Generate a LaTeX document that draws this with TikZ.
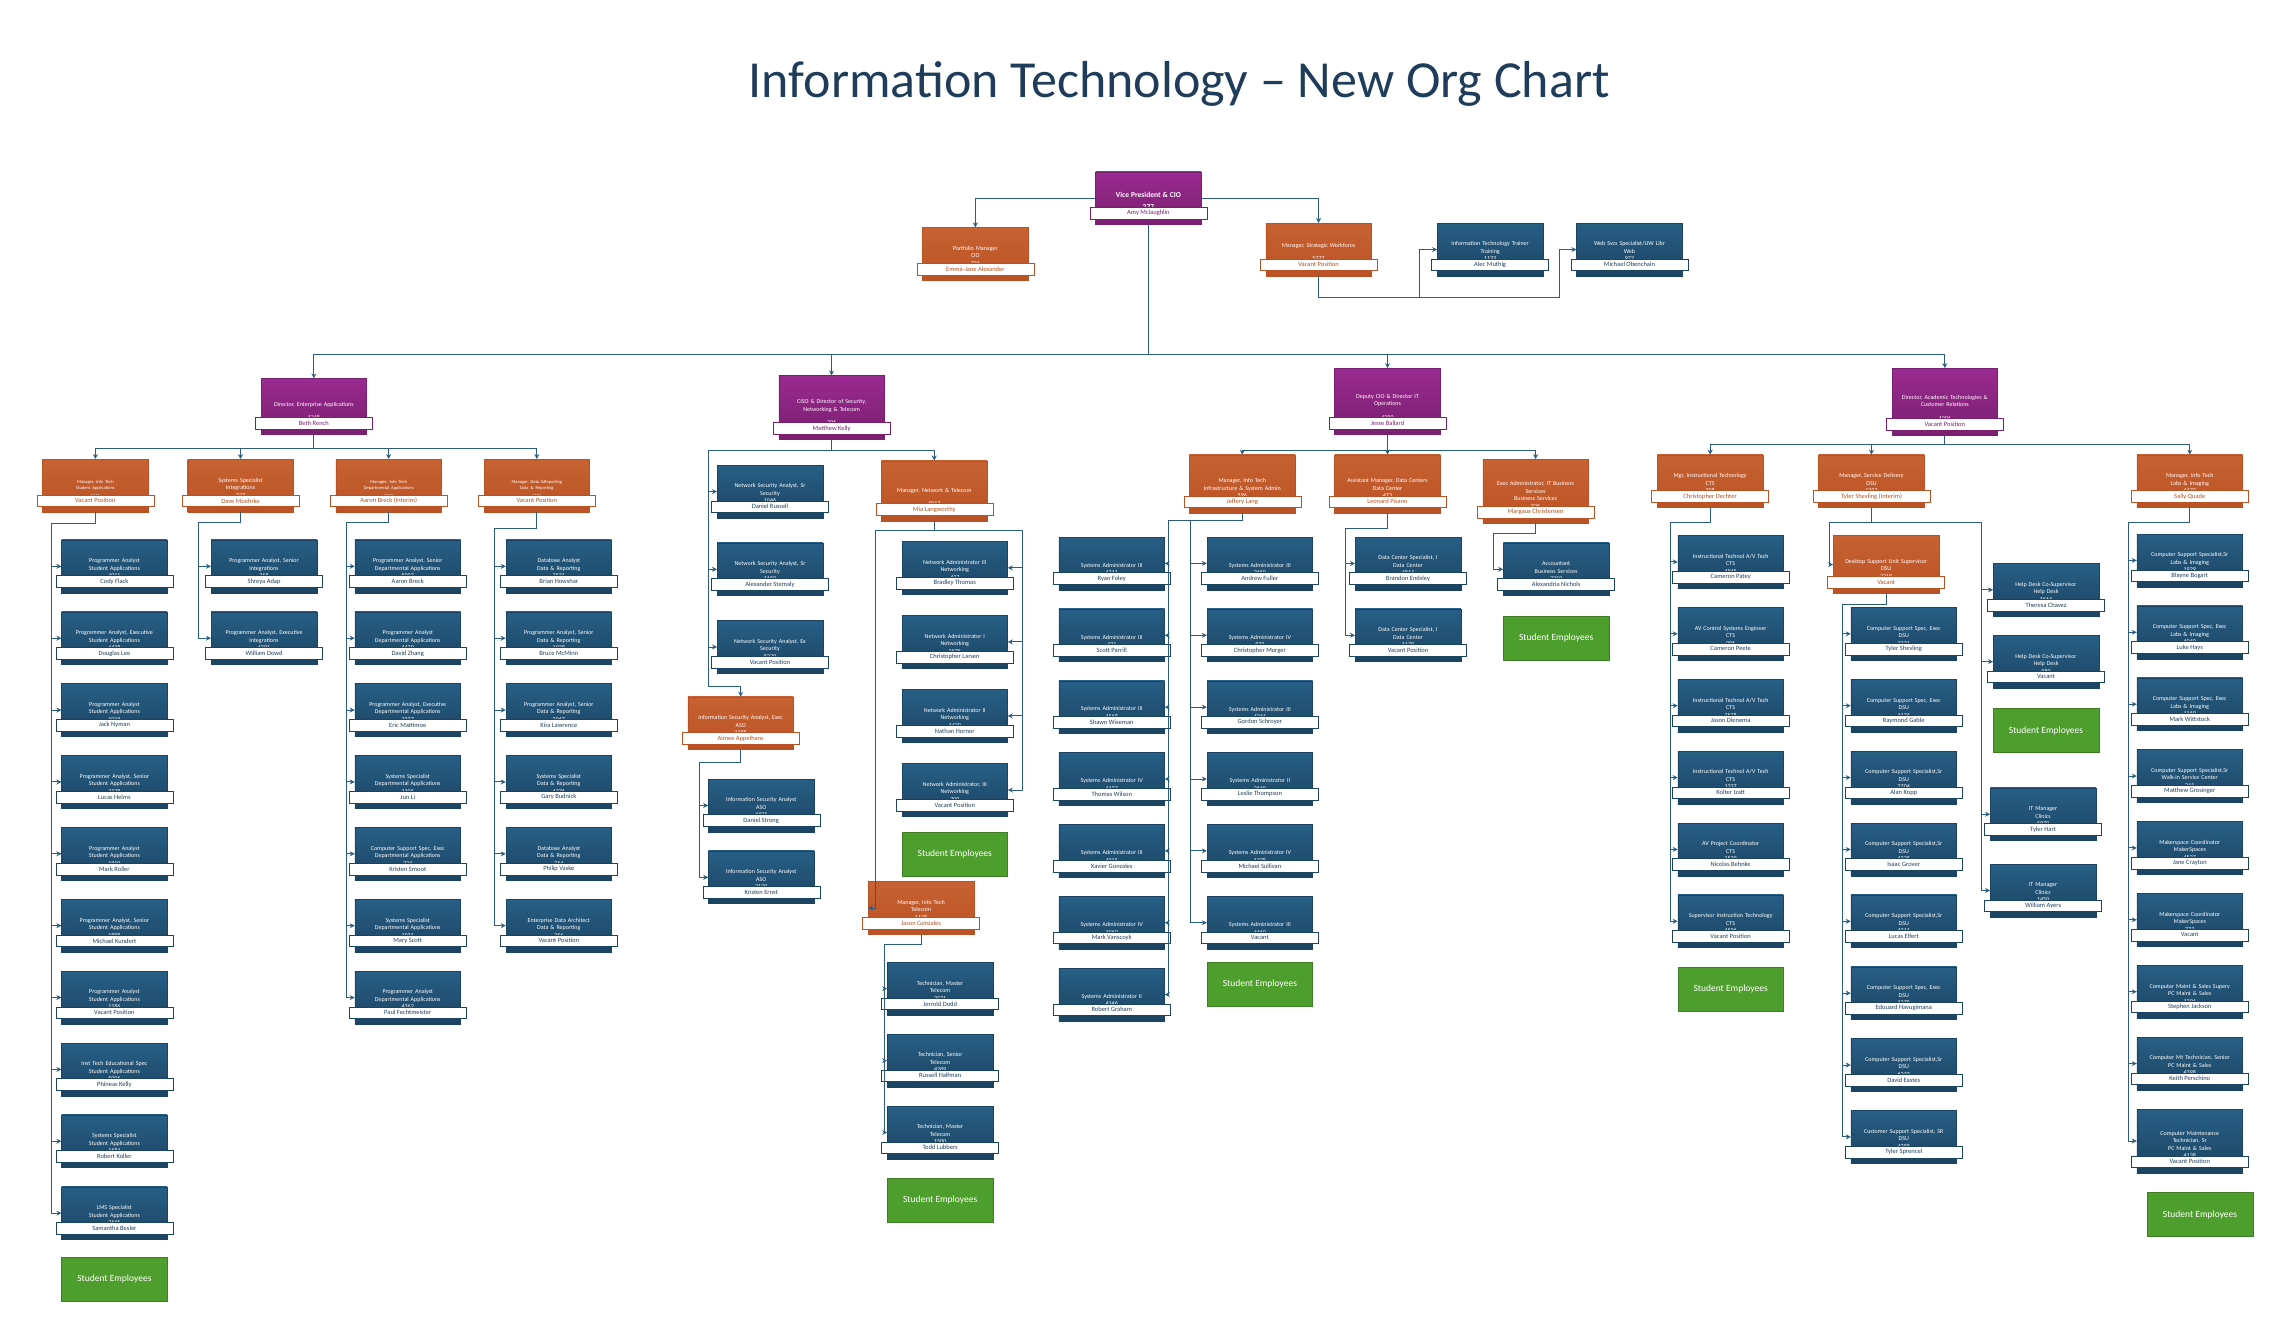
\documentclass[tikz,border=0pt]{standalone}
\usepackage{fontspec}
\setmainfont{Carlito}
\usetikzlibrary{positioning, arrows.meta}

\definecolor{bluetop}{HTML}{285F86}
\definecolor{bluebot}{HTML}{1B4462}
\definecolor{bluetxt}{HTML}{1F3F5A}
\definecolor{orangetop}{HTML}{C86232}
\definecolor{orangebot}{HTML}{BB5225}
\definecolor{orangetxt}{HTML}{B5501F}
\definecolor{purpletop}{HTML}{9A2A90}
\definecolor{purplebot}{HTML}{7A1F70}
\definecolor{purpletxt}{HTML}{7A1F70}
\definecolor{linec}{HTML}{2A5D80}
\definecolor{greenbox}{HTML}{4E9E2E}
\definecolor{titlec}{HTML}{1F3D5A}

% one position card: box, title lines, name bar
\newcommand{\orgcard}[6][]{%
  \node[box=#3, #1] (#2) at (#4) {};
  \node[boxtext, anchor=south] at ([yshift=15pt]#2.south) {#5};
  \node[namebar=#3] (#2-n) at ([yshift=11.5pt]#2.south) {#6};
}

\begin{document}
\begin{tikzpicture}[
    x=1.4667pt, y=-1.4667pt,
    box/.style={rectangle, anchor=north, inner sep=0pt, minimum width=105.6pt,
      minimum height=52.8pt, top color=#1top, bottom color=#1bot, draw=#1bot},
    boxtext/.style={text=white, align=center, text width=104pt, inner sep=0pt,
      font=\fontsize{6}{7.5}\selectfont},
    namebar/.style={rectangle, fill=white, draw=#1bot, text=#1txt, inner sep=0pt,
      minimum width=117pt, minimum height=11.7pt, font=\fontsize{6.5}{7}\selectfont},
    student/.style={rectangle, anchor=north, fill=greenbox, draw=greenbox!80!black,
      minimum width=105.6pt, minimum height=44pt, text=white, font=\fontsize{9.5}{10}\selectfont},
    conn/.style={draw=linec, line width=0.9pt},
    arr/.style={conn, -{Stealth[length=5pt,width=5pt]}}
  ]
  \useasboundingbox (0,0) rectangle (1560,900);

  % title
  \node[text=titlec, font=\fontsize{52}{56}\selectfont] (title) at (804,57)
    {Information Technology -- New Org Chart};

  % top level
  \orgcard{vp}{purple}{783,117}{\fontsize{7.5}{9}\selectfont\bfseries Vice President \& CIO\\[5pt]277}{Amy Mclaughlin}
  \orgcard{pm}{orange}{665,155}{Portfolio Manager\\CIO\\734}{Emma-Jane Alexander}
  \orgcard{sw}{orange}{899,152}{Manager, Strategic Workforce\\[6pt]5277}{Vacant Position}
  \orgcard{tr}{blue}{1016,152}{Information Technology Trainer\\Training\\1133}{Alec Muthig}
  \orgcard{web}{blue}{1111,152}{Web Svcs Specialist/UW Libr\\Web\\972}{Michael Obenchain}
  \draw[arr] (vp.west) -| (pm.north);
  \draw[arr] (vp.east) -| (sw.north);
  \draw[arr] (sw.south) |- (968,203) |- (tr.west);
  \draw[arr] (sw.south) |- (1063,203) |- (web.west);

  % directors
  \orgcard[minimum height=56pt]{ea}{purple}{214,258}{Director, Enterprise Applications\\[6pt]1348}{Beth Rench}
  \orgcard[minimum height=64pt]{ciso}{purple}{567,256}{CISO \& Director of Security,\\Networking \& Telecom\\[6pt]296}{Matthew Kelly}
  \orgcard[minimum height=66pt]{dep}{purple}{946,251}{Deputy CIO \& Director IT\\Operations\\[6pt]4290}{Jesse Ballard}
  \orgcard[minimum height=67pt]{acad}{purple}{1326,251}{Director, Academic Technologies \&\\Customer Relations\\[6pt]4096}{Vacant Position}
  \foreach \d in {ea, ciso, dep, acad}
    \draw[arr] (vp.south) |- (\d.north |- 0,242) -- (\d.north);

  % enterprise applications
  \orgcard{ea1}{orange}{65,313}{\fontsize{4.5}{6}\selectfont Manager, Info Tech\\Student Applications\\1141}{Vacant Position}
  \orgcard{ea2}{orange}{164,313}{Systems Specialist\\Integrations\\327}{Dave Moehrke}
  \orgcard{ea3}{orange}{265,313}{\fontsize{4.5}{6}\selectfont Manager, Info Tech\\Departmental Applications\\1252}{Aaron Breck (Interim)}
  \orgcard{ea4}{orange}{366,313}{\fontsize{4.5}{6}\selectfont Manager, Data \&Reporting\\Data \& Reporting\\1135}{Vacant Position}
  \foreach \m in {ea1, ea2, ea3, ea4}
    \draw[arr] (ea.south) |- (\m.north |- 0,306) -- (\m.north);

  \foreach \t/\n [count=\i, evaluate=\i as \y using 368+49*(\i-1)] in {
      {Programmer Analyst\\Student Applications\\4011}/Cody Flack,
      {Programmer Analyst, Executive\\Student Applications\\4428}/Douglas Lee,
      {Programmer Analyst\\Student Applications\\1019}/Jack Nyman,
      {Programmer Analyst, Senior\\Student Applications\\2128}/Lucas Helms,
      {Programmer Analyst\\Student Applications\\1910}/Mark Roller,
      {Programmer Analyst, Senior\\Student Applications\\1888}/Michael Kundert,
      {Programmer Analyst\\Student Applications\\1186}/Vacant Position,
      {Inst Tech Educational Spec\\Student Applications\\5006}/Phineas Kelly,
      {Systems Specialist\\Student Applications\\1684}/Robert Koller,
      {LMS Specialist\\Student Applications\\2645}/Samantha Besler} {
    \orgcard{ea1-\i}{blue}{78,\y}{\t}{\n}
    \draw[arr] (ea1.south) |- (35,357) |- (ea1-\i.west);
  }
  \node[student] (ea1-se) at (78,857) {Student Employees};

  \foreach \t/\n [count=\i, evaluate=\i as \y using 368+49*(\i-1)] in {
      {Programmer Analyst, Senior\\Integrations\\368}/Shreya Adap,
      {Programmer Analyst, Executive\\Integrations\\4391}/William Dowd} {
    \orgcard{ea2-\i}{blue}{180,\y}{\t}{\n}
    \draw[arr] (ea2.south) |- (135,356) |- (ea2-\i.west);
  }

  \foreach \t/\n [count=\i, evaluate=\i as \y using 368+49*(\i-1)] in {
      {Programmer Analyst, Senior\\Departmental Applications\\5007}/Aaron Breck,
      {Programmer Analyst\\Departmental Applications\\4429}/David Zhang,
      {Programmer Analyst, Executive\\Departmental Applications\\2237}/Eric Mattimoe,
      {Systems Specialist\\Departmental Applications\\1105}/Jun Li,
      {Computer Support Spec, Exec\\Departmental Applications\\324}/Kristen Smoot,
      {Systems Specialist\\Departmental Applications\\1931}/Mary Scott,
      {Programmer Analyst\\Departmental Applications\\4262}/Paul Fechtmeister} {
    \orgcard{ea3-\i}{blue}{278,\y}{\t}{\n}
    \draw[arr] (ea3.south) |- (236,356) |- (ea3-\i.west);
  }

  \foreach \t/\n [count=\i, evaluate=\i as \y using 368+49*(\i-1)] in {
      {Database Analyst\\Data \& Reporting\\2531}/Brian Howshar,
      {Programmer Analyst, Senior\\Data \& Reporting\\1038}/Bruce McMinn,
      {Programmer Analyst, Senior\\Data \& Reporting\\2067}/Kira Lawrence,
      {Systems Specialist\\Data \& Reporting\\4376}/Gary Budnick,
      {Database Analyst\\Data \& Reporting\\764}/Philip Vaske,
      {Enterprise Data Architect\\Data \& Reporting\\256}/Vacant Position} {
    \orgcard{ea4-\i}{blue}{381,\y}{\t}{\n}
    \draw[arr] (ea4.south) |- (337,360) |- (ea4-\i.west);
  }

  % security, networking & telecom
  \foreach \t/\n [count=\i, evaluate=\i as \y using 317+53*(\i-1)] in {
      {Network Security Analyst, Sr\\Security\\1046}/Daniel Russell,
      {Network Security Analyst, Sr\\Security\\1150}/Alexander Stemaly,
      {Network Security Analyst, Ex\\Security\\5229}/Vacant Position} {
    \orgcard{sec-\i}{blue}{525,\y}{\t}{\n}
    \draw[arr] (ciso.south) |- (483,307) |- (sec-\i.west);
  }
  \orgcard{isx}{orange}{505,475}{Information Security Analyst, Exec\\ASO\\1198}{Aimee Appelhans}
  \draw[arr] (ciso.south) |- (483,307) |- (505,468) -- (isx.north);
  \foreach \t/\n [count=\i, evaluate=\i as \y using 531+49*(\i-1)] in {
      {Information Security Analyst\\ASO\\4421}/Daniel Strong,
      {Information Security Analyst\\ASO\\2130}/Kristen Ernst} {
    \orgcard{isx-\i}{blue}{519,\y}{\t}{\n}
    \draw[arr] (isx.south) |- (477,520) |- (isx-\i.west);
  }

  \orgcard[minimum height=60pt]{mnt}{orange}{637,314}{Manager, Network \& Telecom\\[6pt]4017}{Mia Langworthy}
  \draw[arr] (ciso.south) |- (637,307) -- (mnt.north);
  \foreach \t/\n [count=\i, evaluate=\i as \y using 369+50.5*(\i-1)] in {
      {Network Administrator III\\Networking\\427}/Bradley Thomas,
      {Network Administrator I\\Networking\\2575}/Christopher Larsen,
      {Network Administrator II\\Networking\\4420}/Nathan Hornor,
      {Network Administrator, III\\Networking\\700}/Vacant Position} {
    \orgcard{net-\i}{blue}{651,\y}{\t}{\n}
    \draw[arr] (mnt.south) |- (697,362) |- (net-\i.east);
  }
  \node[student] (net-se) at (651,567) {Student Employees};

  \orgcard{tel}{orange}{628,601}{Manager, Info Tech\\Telecom\\1128}{Jason Gonzales}
  \draw[arr] (mnt.south) |- (597,362) |- (tel.west);
  \foreach \t/\n [count=\i, evaluate=\i as \y using 656+49*(\i-1)] in {
      {Technician, Master\\Telecom\\2071}/Jerrold Dodd,
      {Technician, Senior\\Telecom\\4289}/Russell Halfman,
      {Technician, Master\\Telecom\\1500}/Todd Lubbers} {
    \orgcard{tel-\i}{blue}{641,\y}{\t}{\n}
    \draw[arr] (tel.south) |- (603,644) |- (tel-\i.west);
  }
  \node[student] (tel-se) at (641,803) {Student Employees};

  % IT operations
  \orgcard[minimum height=58pt]{inf}{orange}{847,310}{Manager, Info Tech\\Infrastructure \& System Admin\\596}{Jeffery Lang}
  \orgcard[minimum height=58pt]{dc}{orange}{946,310}{Assistant Manager, Data Centers\\Data Center\\473}{Leonard Pisano}
  \orgcard[minimum height=64pt]{bus}{orange}{1047,313}{Exec Administrator, IT Business\\Services\\Business Services\\825}{Margaux Christensen}
  \foreach \m in {inf, dc, bus}
    \draw[arr] (dep.south) |- (\m.north |- 0,307) -- (\m.north);

  \foreach \t/\n [count=\i, evaluate=\i as \y using 366+49*(\i-1)] in {
      III\\4241/Ryan Foley, III\\471/Scott Parrill, III\\4568/Shawn Wiseman,
      IV\\4127/Thomas Wilson, III\\4015/Xavier Gonzales, IV\\1060/Mark Vanscoyk,
      II\\4146/Robert Graham} {
    \orgcard{infl-\i}{blue}{758,\y}{Systems Administrator \t}{\n}
    \draw[arr] (inf.south) |- (797,355) |- (infl-\i.east);
  }
  \foreach \t/\n [count=\i, evaluate=\i as \y using 366+49*(\i-1)] in {
      III\\2650/Andrew Fuller, IV\\973/Christopher Morger, III\\4244/Gordon Schroyer,
      II\\2640/Leslie Thompson, IV\\1378/Michael Sullivan, III\\4460/Vacant} {
    \orgcard{infr-\i}{blue}{859,\y}{Systems Administrator \t}{\n}
    \draw[arr] (inf.south) |- (812,355) |- (infr-\i.west);
  }
  \node[student] (inf-se) at (859,656) {Student Employees};

  \foreach \t/\n [count=\i, evaluate=\i as \y using 366+49*(\i-1)] in {
      4814/Brandon Endsley, 1179/Vacant Position} {
    \orgcard{dc-\i}{blue}{960,\y}{Data Center Specialist, I\\Data Center\\\t}{\n}
    \draw[arr] (dc.south) |- (917,360) |- (dc-\i.west);
  }

  \orgcard{acc}{blue}{1061,370}{Accountant\\Business Services\\2219}{Alexandria Nichols}
  \draw[arr] (bus.south) |- (1018,364) |- (acc.west);
  \node[student] (bus-se) at (1061,420) {Student Employees};

  % academic technologies & customer relations
  \orgcard{cts}{orange}{1166,310}{Mgr, Instructional Technology\\CTS\\308}{Christopher Dechter}
  \orgcard{sd}{orange}{1276,310}{Manager, Service Delivery\\DSU\\1292}{Tyler Shevling (Interim)}
  \orgcard{lab}{orange}{1493,310}{Manager, Info Tech\\Labs \& Imaging\\4473}{Sally Quade}
  \foreach \m in {cts, sd, lab}
    \draw[arr] (acad.south) |- (\m.north |- 0,303) -- (\m.north);

  \foreach \t/\n [count=\i, evaluate=\i as \y using 365+49*(\i-1)] in {
      {Instructional Technol A/V Tech\\CTS\\4945}/Cameron Patey,
      {AV Control Systems Engineer\\CTS\\996}/Cameron Peete,
      {Instructional Technol A/V Tech\\CTS\\2578}/Jason Dienema,
      {Instructional Technol A/V Tech\\CTS\\1337}/Kolter Izatt,
      {AV Project Coordinator\\CTS\\1529}/Nicolas Behnke,
      {Supervisor Instruction Technology\\CTS\\4596}/Vacant Position} {
    \orgcard{cts-\i}{blue}{1180,\y}{\t}{\n}
    \draw[arr] (cts.south) |- (1139,356) |- (cts-\i.west);
  }
  \node[student] (cts-se) at (1180,659) {Student Employees};

  \orgcard[minimum height=58pt]{dsu}{orange}{1286,365}{Desktop Support Unit Supervisor\\DSU\\2218}{Vacant}
  \draw[arr] (sd.south) |- (1247,356) |- (dsu.west);
  \foreach \t/\n [count=\i, evaluate=\i as \y using 414+49*(\i-1)] in {
      {Computer Support Spec, Exec\\DSU\\2231}/Tyler Shevling,
      {Computer Support Spec, Exec\\DSU\\1136}/Raymond Gable,
      {Computer Support Specialist,Sr\\DSU\\2704}/Alan Kopp,
      {Computer Support Specialist,Sr\\DSU\\4325}/Isaac Grover,
      {Computer Support Specialist,Sr\\DSU\\4211}/Lucas Elfert,
      {Computer Support Spec, Exec\\DSU\\1275}/Edouard Havugimana,
      {Computer Support Specialist,Sr\\DSU\\6233}/David Eastes,
      {Customer Support Specialist, SR\\DSU\\4288}/Tyler Sprencel} {
    \orgcard{dsu-\i}{blue}{1298,\y}{\t}{\n}
    \draw[arr] (dsu.south) |- (1256,412) |- (dsu-\i.west);
  }

  \orgcard{hd1}{blue}{1395,384}{Help Desk Co-Supervisor\\Help Desk\\1564}{Theresa Chavez}
  \orgcard{hd2}{blue}{1395,433}{Help Desk Co-Supervisor\\Help Desk\\980}{Vacant}
  \node[student] (hd-se) at (1395,483) {Student Employees};
  \orgcard{cl1}{blue}{1393,537}{IT Manager\\Clinics\\5970}{Tyler Hart}
  \orgcard{cl2}{blue}{1393,589}{IT Manager\\Clinics\\1450}{William Ayers}
  \foreach \c in {hd1, hd2, cl1, cl2}
    \draw[arr] (sd.south) |- (1351,356) |- (\c.west);

  \foreach \t/\n [count=\i, evaluate=\i as \y using 364+49*(\i-1)] in {
      {Computer Support Specialist,Sr\\Labs \& Imaging\\1929}/Blayne Bogart,
      {Computer Support Spec, Exec\\Labs \& Imaging\\4040}/Luke Hays,
      {Computer Support Spec, Exec\\Labs \& Imaging\\1169}/Mark Wittstock,
      {Computer Support Specialist,Sr\\Walk-in Service Center\\241}/Matthew Grosinger,
      {Makerspace Coordinator\\MakerSpaces\\4537}/Jane Crayton,
      {Makerspace Coordinator\\MakerSpaces\\773}/Vacant,
      {Computer Maint \& Sales Superv\\PC Maint \& Sales\\1294}/Stephen Jackson,
      {Computer Mt Technician, Senior\\PC Maint \& Sales\\4398}/Keith Perschino} {
    \orgcard{lab-\i}{blue}{1493,\y}{\t}{\n}
    \draw[arr] (lab.south) |- (1451,356) |- (lab-\i.west);
  }
  \orgcard[minimum height=64pt]{lab-9}{blue}{1493,756}{Computer Maintenance\\Technician, Sr\\PC Maint \& Sales\\4138}{Vacant Position}
  \draw[arr] (lab.south) |- (1451,356) |- (lab-9.west);
  \node[student] (lab-se) at (1500,813) {Student Employees};
\end{tikzpicture}
\end{document}
